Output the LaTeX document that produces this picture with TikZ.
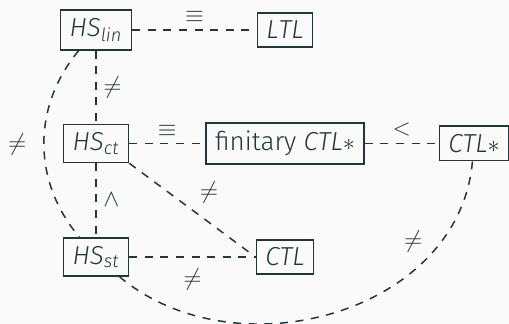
\documentclass[tikz,border=0pt]{standalone}
\usepackage{fontspec}
\setmainfont{Fira Sans}[UprightFont={* Light}, ItalicFont={* Light Italic}]
\usetikzlibrary{positioning}
\definecolor{inkteal}{HTML}{23373B}
\definecolor{paper}{HTML}{FAFAFA}
\tikzset{logic/.style = {draw, line width = 0.8pt, inner xsep = 4.5pt, inner ysep = 4pt}}
\tikzset{rel/.style = {dash pattern = on 4pt off 3.8pt, line width = 0.75pt}}

\begin{document}
\begin{tikzpicture}[x = 94.5pt, y = 56.75pt, color = inkteal,
                    font = \fontsize{13}{15}\selectfont]
      \fill [paper] (-48pt, -33.5pt) rectangle (206.5pt, 128.5pt);
      \useasboundingbox (-48pt, -33.5pt) rectangle (206.5pt, 128.5pt);
      \node [logic] (lin) at (0, 2) {$\mathit{HS}_{\mathit{lin}}$};
      \node [logic] (ltl) at (1, 2) {$\mathit{LTL}$};
      \node [logic] (ct) at (0, 1) {$\mathit{HS}_{\mathit{ct}}$};
      \node [logic] (fin) at (1, 1) {finitary $\mathit{CTL}{\ast}$};
      \node [logic] (ctls) at (2, 1) {$\mathit{CTL}{\ast}$};
      \node [logic] (st) at (0, 0) {$\mathit{HS}_{\mathit{st}}$};
      \node [logic] (ctl) at (1, 0) {$\mathit{CTL}$};
      \draw [rel] (lin) -- node [above] {$\equiv$} (ltl);
      \draw [rel] (lin) -- node [right] {$\neq$} (ct);
      \draw [rel] (ct) -- node [above] {$\equiv$} (fin);
      \draw [rel] (fin) -- node [above] {$<$} (ctls);
      \draw [rel] (ct) -- node [right] {$\wedge$} (st);
      \draw [rel] (ct.south east) -- node [above right] {$\neq$} (ctl.west);
      \draw [rel] (st) -- node [below=2pt] {$\neq$} (ctl);
      \draw [rel] (lin) to [bend right=40] node [left=5pt] {$\neq$} (st);
      \draw [rel] (ctls) to [out=-95, in=-40, looseness=1.05]
            node [pos=0.2, left=6pt] {$\neq$} (st);
    \end{tikzpicture}
\end{document}
